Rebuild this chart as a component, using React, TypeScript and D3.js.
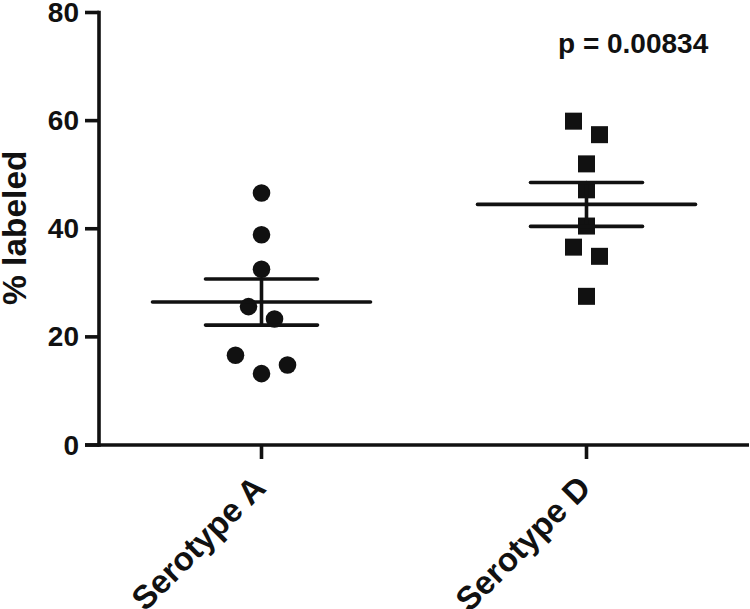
import React from "react";
import * as d3 from "d3";

// ---- data ----
const categories = ["Serotype A", "Serotype D"];
const serotypeA = [46.6, 38.9, 32.5, 25.6, 23.3, 16.6, 14.8, 13.2];
const serotypeD = [59.9, 57.4, 52.0, 47.2, 40.5, 36.6, 34.9, 27.5];
// column slot of each point in the scatter (horizontal spreading of overlapping points)
const slotsA = [0, 0, 0, -1, 1, -2, 2, 0];
const slotsD = [-1, 1, 0, 0, 0, -1, 1, 0];
const yTicks = [0, 20, 40, 60, 80];
const yTitle = "% labeled";
const pLabel = "p = 0.00834";

const W = 750;
const H = 609;
const FONT = "'Liberation Sans', Arial, Helvetica, sans-serif";
const INK = "#111";

export default function App() {
  const y = d3.scaleLinear().domain([0, 80]).range([445, 12.5]);
  const x = d3.scaleBand().domain(categories).range([99, 749]).padding(0);
  const cx = (c: string) => (x(c) as number) + x.bandwidth() / 2;
  const slotW = 13;
  const meanHalf = 109;
  const capHalf = 56;
  const sw = 3.6;

  const groups = [
    { name: categories[0], values: serotypeA, slots: slotsA, shape: "circle" },
    { name: categories[1], values: serotypeD, slots: slotsD, shape: "square" },
  ];

  return (
    <svg
      width={W}
      height={H}
      style={{ position: "absolute", left: 0, top: 0, display: "block", background: "#fff" }}
      fontFamily={FONT}
    >
      {/* y axis */}
      <line x1={99} x2={99} y1={y(80)} y2={y(0)} stroke={INK} strokeWidth={sw} strokeLinecap="square" />
      {yTicks.map((t) => (
        <g key={t}>
          <line x1={85} x2={99} y1={y(t)} y2={y(t)} stroke={INK} strokeWidth={sw} />
          <text
            x={79}
            y={y(t)}
            textAnchor="end"
            dominantBaseline="central"
            fontSize={28}
            fontWeight="bold"
            fill={INK}
          >
            {t}
          </text>
        </g>
      ))}
      <text
        transform={`translate(26, ${y(40) - 1}) rotate(-90)`}
        textAnchor="middle"
        fontSize={33.5}
        fontWeight="bold"
        fill={INK}
      >
        {yTitle}
      </text>

      {/* x axis */}
      <line x1={85} x2={749} y1={y(0)} y2={y(0)} stroke={INK} strokeWidth={sw} />
      {categories.map((c) => (
        <g key={c}>
          <line x1={cx(c)} x2={cx(c)} y1={y(0)} y2={y(0) + 14} stroke={INK} strokeWidth={sw} />
          <text
            transform={`translate(${cx(c) + 6}, 490) rotate(-45)`}
            textAnchor="end"
            fontSize={33}
            fontWeight="bold"
            fill={INK}
          >
            {c}
          </text>
        </g>
      ))}

      {/* points */}
      {groups.map((g) =>
        g.values.map((v, i) => {
          const px = cx(g.name) + g.slots[i] * slotW;
          const py = y(v);
          return g.shape === "circle" ? (
            <circle key={g.name + i} cx={px} cy={py} r={8.8} fill={INK} />
          ) : (
            <rect key={g.name + i} x={px - 8.5} y={py - 8.5} width={17} height={17} fill={INK} />
          );
        })
      )}

      {/* mean and SEM */}
      {groups.map((g) => {
        const m = d3.mean(g.values) as number;
        const sem = (d3.deviation(g.values) as number) / Math.sqrt(g.values.length);
        const c = cx(g.name);
        return (
          <g key={"m" + g.name} stroke={INK} strokeWidth={sw} strokeLinecap="round">
            <line x1={c - meanHalf} x2={c + meanHalf} y1={y(m)} y2={y(m)} />
            <line x1={c} x2={c} y1={y(m + sem)} y2={y(m - sem)} />
            <line x1={c - capHalf} x2={c + capHalf} y1={y(m + sem)} y2={y(m + sem)} />
            <line x1={c - capHalf} x2={c + capHalf} y1={y(m - sem)} y2={y(m - sem)} />
          </g>
        );
      })}

      <text x={558} y={53} fontSize={28} fontWeight="bold" fill={INK}>
        {pLabel}
      </text>
    </svg>
  );
}
